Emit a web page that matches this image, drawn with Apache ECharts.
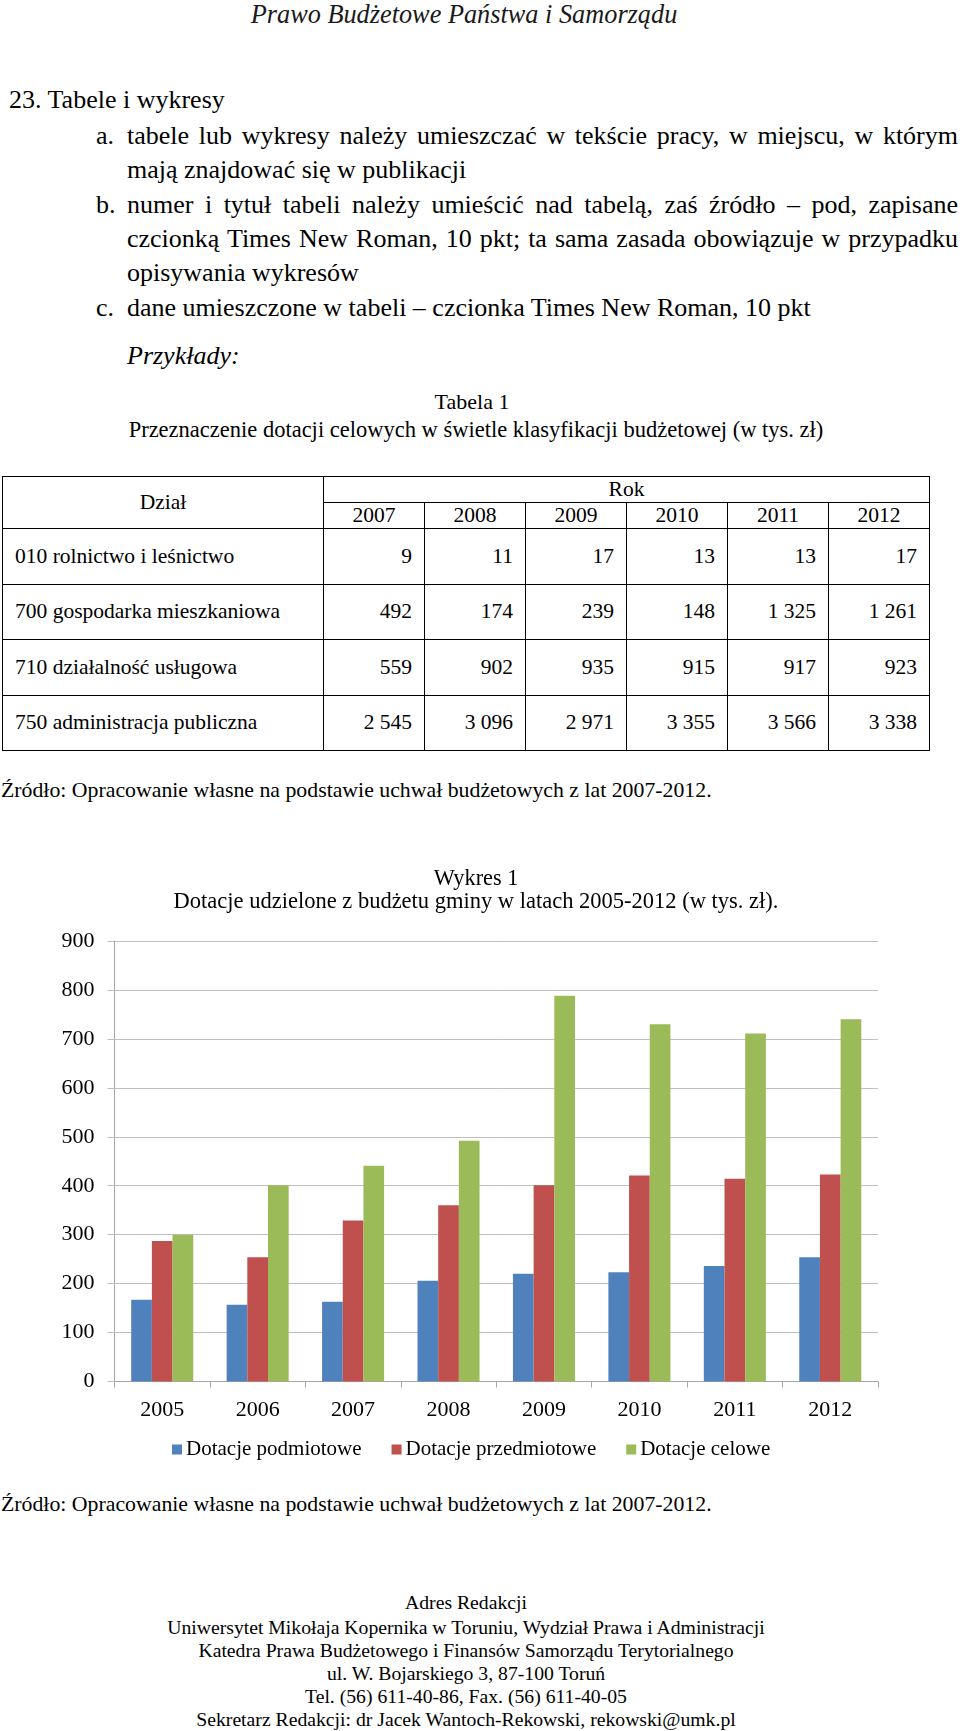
<!DOCTYPE html>
<html lang="pl">
<head>
<meta charset="utf-8">
<script src="https://cdn.jsdelivr.net/npm/echarts@6/dist/echarts.min.js"></script>
<style>
  html, body { margin:0; padding:0; background:#fff; }
  body { width:960px; height:1731px; position:relative; overflow:hidden;
         font-family:'Liberation Serif','Times New Roman',serif; color:#000; }
  .ln { position:absolute; white-space:nowrap; }
  .just { text-align:justify; text-align-last:justify; white-space:normal; }
  #tbl { position:absolute; left:2px; top:476px; border-collapse:collapse;
         font-size:21.5px; table-layout:fixed; }
  #tbl td { border:1.5px solid #000; padding:0 12px; vertical-align:middle; line-height:1; }
  #tbl td.num { text-align:right; }
  #tbl td.ctr { text-align:center; }
  #chart { position:absolute; left:0; top:850px; width:960px; height:630px; }
</style>
</head>
<body>
<div id="chart"></div>
<script>
// ---------- data ----------
const headerTitle = 'Prawo Budżetowe Państwa i Samorządu';
const tableYears = ['2007','2008','2009','2010','2011','2012'];
const tableSections = ['010 rolnictwo i leśnictwo','700 gospodarka mieszkaniowa','710 działalność usługowa','750 administracja publiczna'];
const tableRow010 = [9, 11, 17, 13, 13, 17];
const tableRow700 = [492, 174, 239, 148, 1325, 1261];
const tableRow710 = [559, 902, 935, 915, 917, 923];
const tableRow750 = [2545, 3096, 2971, 3355, 3566, 3338];

const chartCategories = ['2005','2006','2007','2008','2009','2010','2011','2012'];
const seriesNames = ['Dotacje podmiotowe','Dotacje przedmiotowe','Dotacje celowe'];
const dotacjePodmiotowe   = [167, 157, 163, 206, 220, 223, 236, 254];
const dotacjePrzedmiotowe = [287, 254, 329, 360, 401, 421, 414, 423];
const dotacjeCelowe       = [300, 401, 441, 492, 788, 730, 711, 740];
const yTicks = [0,100,200,300,400,500,600,700,800,900];

// ---------- document text ----------
function line(text, cy, size, opts) {
  opts = opts || {};
  const d = document.createElement('div');
  d.className = 'ln' + (opts.just ? ' just' : '');
  d.textContent = text;
  const lh = size * 1.2;
  d.style.fontSize = size + 'px';
  d.style.lineHeight = lh + 'px';
  d.style.top = (cy - 0.6065 * size) + 'px';
  if (opts.italic) d.style.fontStyle = 'italic';
  if (opts.color) d.style.color = opts.color;
  if (opts.center !== undefined) {
    d.style.left = '0px'; d.style.width = (2 * opts.center) + 'px'; d.style.textAlign = 'center';
  } else {
    d.style.left = opts.left + 'px';
    if (opts.width) d.style.width = opts.width + 'px';
  }
  document.body.appendChild(d);
  return d;
}
const B = 26;
line(headerTitle, 15, 26.3, {italic:true, center:464, color:'#1a1a1a'});
line('23. Tabele i wykresy', 100, B, {left:9});
line('a.', 136, B, {left:96});
line('tabele lub wykresy należy umieszczać w tekście pracy, w miejscu, w którym', 136, B, {left:127, width:831, just:true});
line('mają znajdować się w publikacji', 170, B, {left:127});
line('b.', 205, B, {left:96});
line('numer i tytuł tabeli należy umieścić nad tabelą, zaś źródło – pod, zapisane', 205, B, {left:127, width:831, just:true});
line('czcionką Times New Roman, 10 pkt; ta sama zasada obowiązuje w przypadku', 239, B, {left:127, width:831, just:true});
line('opisywania wykresów', 273, B, {left:127});
line('c.', 308, B, {left:96});
line('dane umieszczone w tabeli – czcionka Times New Roman, 10 pkt', 308, B, {left:127});
line('Przykłady:', 356, B, {left:127, italic:true});

line('Tabela 1', 402, 22, {center:472});
line('Przeznaczenie dotacji celowych w świetle klasyfikacji budżetowej (w tys. zł)', 430, 22.5, {center:476});

// table
function fmt(n) {
  if (n >= 1000) { const r = n % 1000; return Math.floor(n/1000) + '\u00a0' + String(r).padStart(3,'0'); }
  return String(n);
}
const tbl = document.createElement('table');
tbl.id = 'tbl';
let html = '<colgroup><col style="width:321px">' + tableYears.map(()=>'<col style="width:101px">').join('') + '</colgroup>';
html += '<tr style="height:26px"><td class="ctr" rowspan="2">Dział</td><td class="ctr" colspan="6">Rok</td></tr>';
html += '<tr style="height:26px">' + tableYears.map(y=>'<td class="ctr">'+y+'</td>').join('') + '</tr>';
const rows = [tableRow010, tableRow700, tableRow710, tableRow750];
rows.forEach((r,i)=>{
  html += '<tr style="height:55.6px"><td>' + tableSections[i] + '</td>' + r.map(v=>'<td class="num">'+fmt(v)+'</td>').join('') + '</tr>';
});
tbl.innerHTML = html;
document.body.appendChild(tbl);

line('Źródło: Opracowanie własne na podstawie uchwał budżetowych z lat 2007-2012.', 790, 21.8, {left:1});
line('Źródło: Opracowanie własne na podstawie uchwał budżetowych z lat 2007-2012.', 1504, 21.8, {left:1});

const F = 19.7;
line('Adres Redakcji', 1603, F, {center:466});
line('Uniwersytet Mikołaja Kopernika w Toruniu, Wydział Prawa i Administracji', 1628, F, {center:466});
line('Katedra Prawa Budżetowego i Finansów Samorządu Terytorialnego', 1651, F, {center:466});
line('ul. W. Bojarskiego 3, 87-100 Toruń', 1674, F, {center:466});
line('Tel. (56) 611-40-86, Fax. (56) 611-40-05', 1697, F, {center:466});
line('Sekretarz Redakcji: dr Jacek Wantoch-Rekowski, rekowski@umk.pl', 1720, F, {center:466});

// ---------- chart ----------
const serif = "'Liberation Serif','Times New Roman',serif";
const chart = echarts.init(document.getElementById('chart'), null, {renderer:'canvas'});
const colors = ['#4F81BD','#C0504D','#9BBB59'];
const seriesData = [dotacjePodmiotowe, dotacjePrzedmiotowe, dotacjeCelowe];
chart.setOption({
  animation:false,
  backgroundColor:'transparent',
  title:{
    text:'Wykres 1',
    subtext:'Dotacje udzielone z budżetu gminy w latach 2005-2012 (w tys. zł).',
    left:471, top:13, textAlign:'center', itemGap:1, padding:5,
    textStyle:{fontFamily:serif, fontSize:22.3, fontWeight:'normal', color:'#000', lineHeight:22},
    subtextStyle:{fontFamily:serif, fontSize:22.5, color:'#000', lineHeight:22}
  },
  legend:{
    data:seriesNames, left:172, top:589, padding:0, itemGap:30, itemWidth:10, itemHeight:10,
    icon:'rect', textStyle:{fontFamily:serif, fontSize:21, color:'#000', padding:[0,0,0,-1]}
  },
  grid:{left:114.5, right:82, top:91, bottom:98.5, containLabel:false},
  xAxis:{
    type:'category', data:chartCategories, boundaryGap:true,
    axisLine:{lineStyle:{color:'#a6a6a6', width:1}},
    axisTick:{show:true, length:6, lineStyle:{color:'#a6a6a6'}},
    axisLabel:{fontFamily:serif, fontSize:22, color:'#000', margin:18}
  },
  yAxis:{
    type:'value', min:0, max:900, interval:100,
    axisLine:{show:true, lineStyle:{color:'#a6a6a6', width:1}},
    axisTick:{show:true, length:7, lineStyle:{color:'#bfbfbf'}},
    splitLine:{show:true, lineStyle:{color:'#bfbfbf', width:1}},
    axisLabel:{fontFamily:serif, fontSize:22, color:'#000', margin:20,
      formatter:(v)=> yTicks.includes(v) ? String(v) : ''}
  },
  series: seriesNames.map((n,i)=>({
    name:n, type:'bar', data:seriesData[i], barGap:'0%', barCategoryGap:'35%',
    itemStyle:{color:colors[i]}
  }))
});
</script>
</body>
</html>
